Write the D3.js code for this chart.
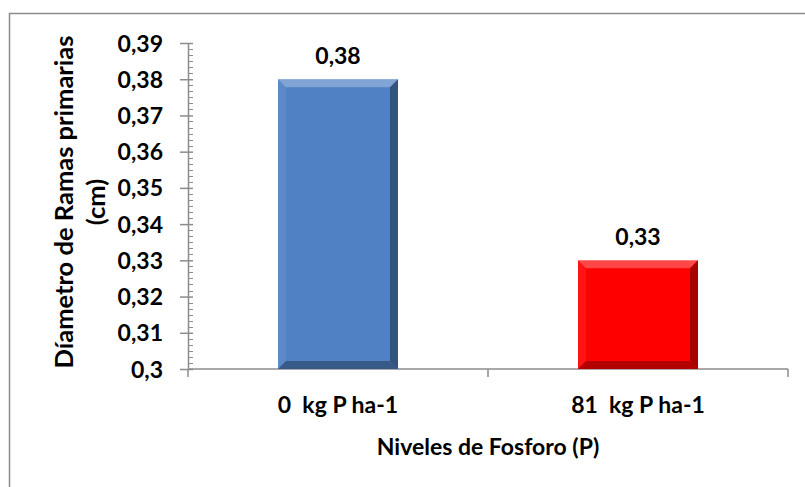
<!DOCTYPE html>
<html>
<head>
<meta charset="utf-8">
<script src="https://cdn.jsdelivr.net/npm/d3@7"></script>
<style>
  body { margin: 0; background: #fff; }
  text { font-family: "Lato", "Open Sans", sans-serif; font-weight: bold; fill: #000; white-space: pre; }
</style>
</head>
<body>
<div id="chart"></div>
<script>

// data
var categories = ["0  kg P ha-1", "81  kg P ha-1"];
var values = [0.38, 0.33];
var valueLabels = ["0,38", "0,33"];
var yTicks = [0.30, 0.31, 0.32, 0.33, 0.34, 0.35, 0.36, 0.37, 0.38, 0.39];
var yTickLabels = ["0,3", "0,31", "0,32", "0,33", "0,34", "0,35", "0,36", "0,37", "0,38", "0,39"];
var barColors = ["#4f81c4", "#ff0000"];
var yTitle = ["Díametro de Ramas primarias", "(cm)"];
var xTitle = "Niveles de Fosforo (P)";

var width = 805, height = 487;
var margin = { top: 43, left: 188, right: 17, bottom: 118 };
var plotW = width - margin.left - margin.right,
    plotH = height - margin.top - margin.bottom;
var fs = 23;

var svg = d3.select("#chart").append("svg")
    .attr("width", width)
    .attr("height", height);

// chart frame (only top and left visible, rest is cut off)
svg.append("rect")
    .attr("x", 9.5).attr("y", 13.5)
    .attr("width", 900).attr("height", 600)
    .attr("fill", "none")
    .attr("stroke", "#8c8c8c")
    .attr("stroke-width", 1.5);

var g = svg.append("g")
    .attr("transform", "translate(" + margin.left + "," + margin.top + ")");

// scales
var x = d3.scaleBand()
    .domain(categories)
    .range([0, plotW])
    .paddingInner(0.6)
    .paddingOuter(0.3);

var xStep = d3.scaleBand().domain(categories).range([0, plotW]);

var y = d3.scaleLinear()
    .domain([0.30, 0.39])
    .range([plotH, 0]);

// y axis with minor ticks
var minor = [];
yTicks.slice(0, -1).forEach(function (t) {
    for (var k = 1; k < 6; k++) minor.push(t + k * 0.01 / 6);
});

g.append("g")
    .attr("class", "y-minor")
    .selectAll("line")
    .data(minor)
    .enter().append("line")
    .attr("x1", 0).attr("x2", 5)
    .attr("y1", function (d) { return Math.round(y(d)) + 0.5; })
    .attr("y2", function (d) { return Math.round(y(d)) + 0.5; })
    .attr("stroke", "#8c8c8c");

var yAxis = d3.axisLeft(y)
    .tickValues(yTicks)
    .tickSize(0)
    .tickFormat(function (d, i) { return yTickLabels[i]; });

var yg = g.append("g")
    .attr("class", "y-axis")
    .call(yAxis);
yg.select(".domain").attr("stroke", "#8c8c8c").attr("stroke-width", 1.5);
yg.selectAll(".tick line").remove();
yg.selectAll(".tick").append("line")
    .attr("x1", -8).attr("x2", 5)
    .attr("stroke", "#8c8c8c").attr("stroke-width", 1.5);
yg.selectAll(".tick text")
    .attr("x", -25)
    .attr("dy", "0.35em")
    .attr("font-size", fs)
    .style("font-family", null);
yg.attr("font-family", null).attr("font-size", null);

// x axis
g.append("line")
    .attr("x1", 0).attr("x2", plotW)
    .attr("y1", plotH).attr("y2", plotH)
    .attr("stroke", "#8c8c8c").attr("stroke-width", 1.5);

var xTickPos = [0].concat(categories.map(function (c) { return xStep(c) + xStep.bandwidth(); }));
g.selectAll(".x-tick")
    .data(xTickPos)
    .enter().append("line")
    .attr("class", "x-tick")
    .attr("x1", function (d) { return d; })
    .attr("x2", function (d) { return d; })
    .attr("y1", plotH).attr("y2", plotH + 8)
    .attr("stroke", "#8c8c8c").attr("stroke-width", 1.5);

g.selectAll(".x-label")
    .data(categories)
    .enter().append("text")
    .attr("class", "x-label")
    .attr("x", function (d) { return x(d) + x.bandwidth() / 2; })
    .attr("y", plotH + 44)
    .attr("text-anchor", "middle")
    .attr("font-size", fs)
    .text(function (d) { return d; });

// bars with bevel
var bevel = 8;
var bars = g.selectAll(".bar")
    .data(values)
    .enter().append("g")
    .attr("class", "bar");

bars.append("rect")
    .attr("x", function (d, i) { return x(categories[i]); })
    .attr("y", function (d) { return y(d); })
    .attr("width", x.bandwidth())
    .attr("height", function (d) { return plotH - y(d); })
    .attr("fill", function (d, i) { return barColors[i]; });

function edges(d, i) {
    var x0 = x(categories[i]), x1 = x0 + x.bandwidth(),
        y0 = y(d), y1 = plotH, b = bevel;
    return [
        { p: [[x0, y0], [x1, y0], [x1 - b, y0 + b], [x0 + b, y0 + b]], c: "rgba(255,255,255,0.28)" },
        { p: [[x0, y0], [x0 + b, y0 + b], [x0 + b, y1 - b], [x0, y1]], c: "rgba(255,255,255,0.08)" },
        { p: [[x1, y0], [x1, y1], [x1 - b, y1 - b], [x1 - b, y0 + b]], c: "rgba(0,0,0,0.35)" },
        { p: [[x0, y1], [x1, y1], [x1 - b, y1 - b], [x0 + b, y1 - b]], c: "rgba(0,0,0,0.3)" }
    ];
}

bars.selectAll("polygon")
    .data(function (d, i) { return edges(d, i); })
    .enter().append("polygon")
    .attr("points", function (e) { return e.p.map(function (q) { return q.join(","); }).join(" "); })
    .attr("fill", function (e) { return e.c; });

// value labels
g.selectAll(".value")
    .data(values)
    .enter().append("text")
    .attr("class", "value")
    .attr("x", function (d, i) { return x(categories[i]) + x.bandwidth() / 2; })
    .attr("y", function (d) { return y(d) - 15; })
    .attr("text-anchor", "middle")
    .attr("font-size", fs)
    .text(function (d, i) { return valueLabels[i]; });

// axis titles
g.append("text")
    .attr("x", plotW / 2)
    .attr("y", plotH + 86)
    .attr("text-anchor", "middle")
    .attr("font-size", fs)
    .text(xTitle);

var yt = svg.append("text")
    .attr("transform", "translate(0," + (margin.top + plotH / 2 - 4) + ") rotate(-90)")
    .attr("text-anchor", "middle")
    .attr("font-size", 25.5);
yt.selectAll("tspan")
    .data(yTitle)
    .enter().append("tspan")
    .attr("x", 0)
    .attr("y", function (d, i) { return 73 + i * 32; })
    .text(function (d) { return d; });

</script>
</body>
</html>
